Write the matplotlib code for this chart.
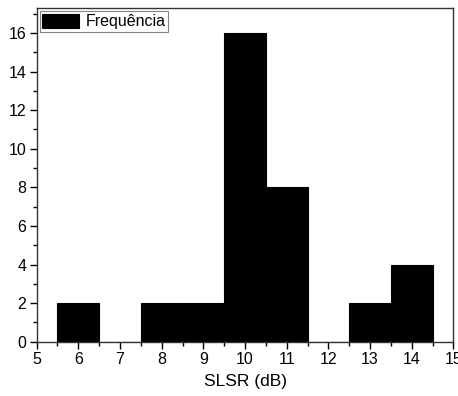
import matplotlib
matplotlib.use("Agg")
import matplotlib.pyplot as plt
from matplotlib.ticker import MultipleLocator

plt.rcParams['font.family'] = ['Liberation Sans', 'DejaVu Sans']

# Histogram of SLSR values: bin centres and counts
bin_centers = [6, 7, 8, 9, 10, 11, 12, 13, 14]
counts = [2, 0, 2, 2, 16, 8, 0, 2, 4]
bin_width = 1.0

fig = plt.figure(figsize=(4.58, 3.96), dpi=100)
ax = fig.add_axes([0.080, 0.137, 0.910, 0.843])

ax.bar(bin_centers, counts, width=bin_width, color='black',
       edgecolor='black', linewidth=0.8, label='Frequência')

ax.set_xlim(5, 15)
ax.set_ylim(0, 17.3)
ax.xaxis.set_major_locator(MultipleLocator(1))
ax.xaxis.set_minor_locator(MultipleLocator(0.5))
ax.yaxis.set_major_locator(MultipleLocator(2))
ax.yaxis.set_minor_locator(MultipleLocator(1))

ax.tick_params(which='major', direction='out', length=5, width=1,
               labelsize=11.5, pad=2.5, top=False, right=False)
ax.tick_params(which='minor', direction='out', length=3, width=1,
               top=False, right=False)
for s in ax.spines.values():
    s.set_linewidth(1)
    s.set_color('#333333')

ax.set_xlabel('SLSR (dB)', fontsize=12.5, labelpad=5)

leg = ax.legend(loc='upper left', fontsize=11.5, frameon=True, fancybox=False,
                handlelength=2.3, handleheight=1.0, borderpad=0.15,
                borderaxespad=0.2, handletextpad=0.4)
leg.get_frame().set_edgecolor('#666666')
leg.get_frame().set_linewidth(0.8)

fig.savefig('out.png', dpi=100)
